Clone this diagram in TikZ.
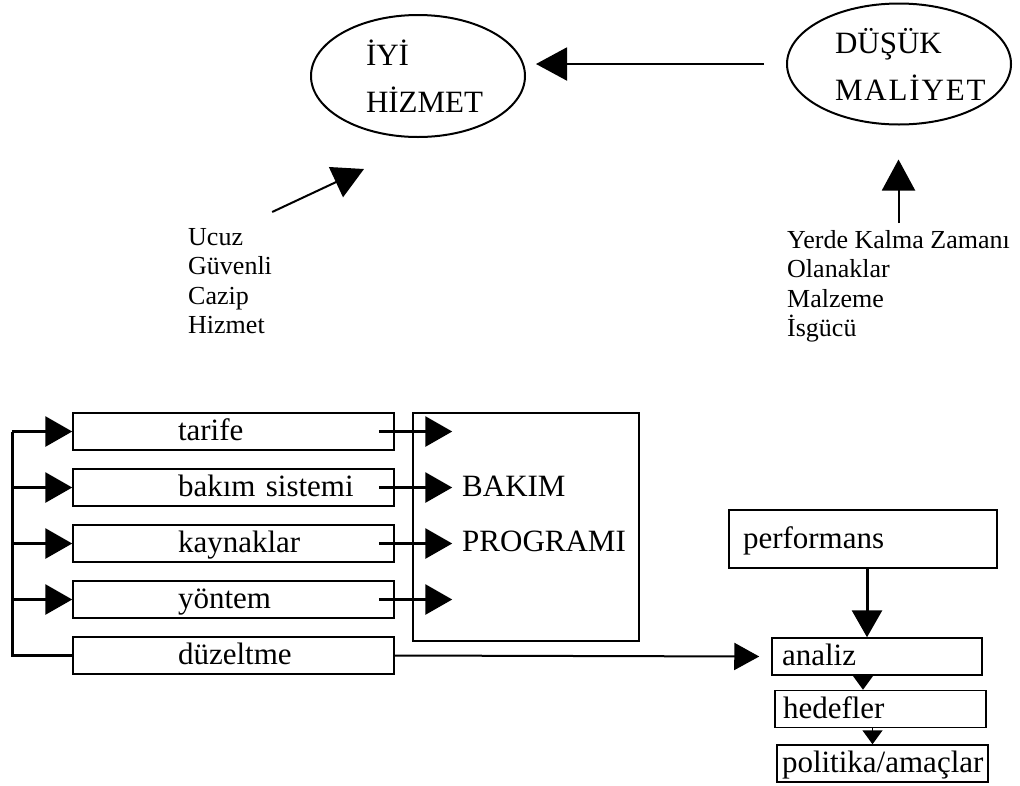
\documentclass[tikz,border=0pt]{standalone}
\usepackage{fontspec}
\setmainfont{Liberation Serif}
\usetikzlibrary{shapes.geometric,arrows.meta,positioning}
\setlength{\parindent}{0pt}

\begin{document}
\begin{tikzpicture}[x=1pt, y=-1pt, node distance=17.5pt,
  bigtext/.style = {font=\fontsize{31}{36}\selectfont},
  goal/.style = {shape=ellipse, draw, line width=2pt, inner sep=0pt,
    align=left, font=\fontsize{31}{47}\selectfont},
  factors/.style = {align=left, inner sep=0pt, anchor=north west,
    font=\fontsize{26}{29.5}\selectfont},
  listbox/.style = {draw, line width=1.5pt, bigtext, minimum height=37pt,
    text width=311pt, inner xsep=5pt, inner ysep=0pt, align=left,
    text height=21pt, text depth=3pt,
    execute at begin node={\hspace*{100pt}}},
  stepbox/.style = {draw, line width=1.5pt, bigtext, minimum height=37pt,
    inner xsep=10pt, inner ysep=0pt, align=left,
    text height=21pt, text depth=3pt},
  heavy/.style = {line width=3pt, -{Triangle[length=27pt,width=30pt]}},
  toparrow/.style = {line width=2pt, -{Triangle[length=31pt,width=33pt]}},
  thinarrow/.style = {line width=2pt, -{Triangle[length=25pt,width=27pt]}},
  smallarrow/.style = {line width=1.5pt, -{Triangle[length=14pt,width=20pt]}}]
  \useasboundingbox (0,0) rectangle (1020,785);

  % goals
  \node[goal, minimum width=214pt, minimum height=122pt, text width=104pt] (good) at (418,76) {İYİ\\HİZMET};
  \node[goal, minimum width=224pt, minimum height=121pt, text width=128pt] (lowcost) at (899,64)
    {DÜŞÜK\\{\addfontfeature{LetterSpace=6}MALİYET}};
  \node[factors] (quality) at (188,228) {Ucuz\\Güvenli\\Cazip\\Hizmet};
  \node[factors] (costs) at (787,230) {Yerde Kalma Zamanı\\Olanaklar\\Malzeme\\İsgücü};

  \draw[toparrow] ([xshift=-22pt]lowcost.west) -- ([xshift=10pt]good.east |- lowcost.west);
  \draw[toparrow] ([yshift=16pt]quality.north east) -- ([xshift=-54pt,yshift=-31pt]good.south);
  \draw[toparrow] ([yshift=7pt]costs.north) -- ([yshift=-34pt]costs.north |- lowcost.south);

  % program inputs
  \node[listbox] (tarife) at (233.5,431.5) {tarife};
  \node[listbox, below=of tarife] (system) {bakım sistemi};
  \node[listbox, below=of system] (sources) {kaynaklar};
  \node[listbox, below=of sources] (method) {yöntem};
  \node[listbox, below=of method] (fix) {düzeltme};
  \coordinate[left=60pt of tarife.west] (rail);

  \node[draw, line width=1.5pt, minimum width=226pt, minimum height=228pt] (bakim) at (526,527) {};
  \node[anchor=north west, inner sep=0pt, align=left, font=\fontsize{31}{55}\selectfont]
    (bakimtxt) at (462,476) {BAKIM\\PROGRAMI};

  \draw[line width=3.5pt] (fix.west) -- (rail |- fix.west) -- (rail);
  \foreach \n in {tarife,system,sources,method} {
    \draw[heavy] (rail |- \n.west) -- (\n.west);
    \draw[heavy] ([xshift=-16pt]\n.east) -- ([xshift=40pt]\n.east -| bakim.west);
  }

  % review loop
  \node[stepbox, minimum height=58pt, inner xsep=14pt, text width=240pt] (perf) at (863,539) {performans};
  \node[stepbox, text width=190pt] (analiz) at (877,656.5) {analiz};
  \node[stepbox, inner xsep=8pt, text width=195pt] (hedef) at (880.5,709) {hedefler};
  \node[stepbox, inner xsep=5pt, text width=201pt] (policy) at (882.5,763.5) {politika/amaçlar};

  \draw[thinarrow] (fix.east) -- ([xshift=-12pt]analiz.west);
  \draw[heavy] ([xshift=4pt]perf.south) -- ([xshift=4pt]perf.south |- analiz.north);
  \draw[smallarrow] ([xshift=-14pt]analiz.south) -- ([xshift=-14pt]analiz.south |- hedef.north);
  \draw[smallarrow] ([xshift=-8pt]hedef.south) -- ([xshift=-8pt]hedef.south |- policy.north);
\end{tikzpicture}
\end{document}
